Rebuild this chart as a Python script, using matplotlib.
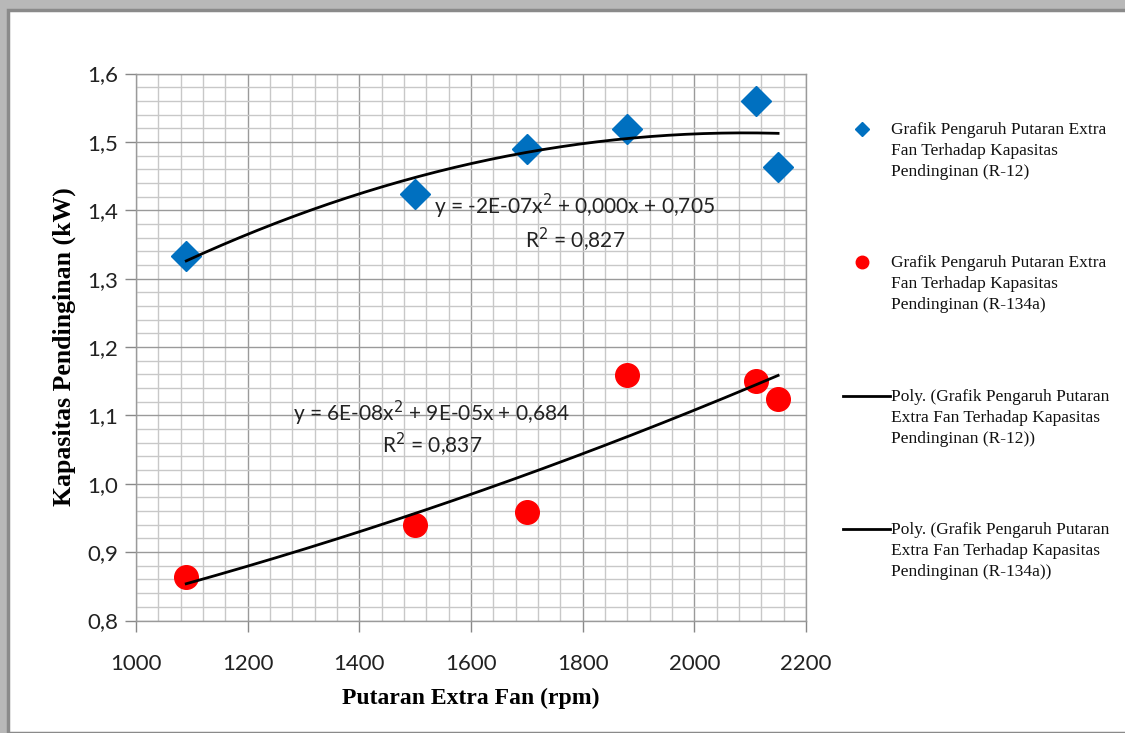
import numpy as np
import matplotlib
matplotlib.use("Agg")
import matplotlib.pyplot as plt
from matplotlib.lines import Line2D
from matplotlib.patches import Rectangle

# data
rpm = [1090, 1500, 1700, 1880, 2110, 2150]
kap_r12 = [1.333, 1.424, 1.490, 1.519, 1.560, 1.463]
kap_r134a = [0.864, 0.940, 0.959, 1.159, 1.150, 1.124]

x_ticks = [1000, 1200, 1400, 1600, 1800, 2000, 2200]
y_ticks = [0.8, 0.9, 1.0, 1.1, 1.2, 1.3, 1.4, 1.5, 1.6]

eq_r12 = "y = -2E-07x$^2$ + 0,000x + 0,705"
r2_r12 = "R$^2$ = 0,827"
eq_r134a = "y = 6E-08x$^2$ + 9E-05x + 0,684"
r2_r134a = "R$^2$ = 0,837"

legend_labels = [
    "Grafik Pengaruh Putaran Extra\nFan Terhadap Kapasitas\nPendinginan (R-12)",
    "Grafik Pengaruh Putaran Extra\nFan Terhadap Kapasitas\nPendinginan (R-134a)",
    "Poly. (Grafik Pengaruh Putaran\nExtra Fan Terhadap Kapasitas\nPendinginan (R-12))",
    "Poly. (Grafik Pengaruh Putaran\nExtra Fan Terhadap Kapasitas\nPendinginan (R-134a))",
]

blue = "#0070C0"
red = "#FF0000"
tick_font = "Lato"
serif = "Liberation Serif"

fig = plt.figure(figsize=(11.25, 7.33), dpi=100)
W, H = 1125, 733

# gray page frame around the chart box
fig.patch.set_facecolor("#b8b8b8")
fig.add_artist(Rectangle((8 / W, 0), 1, 1 - 10 / H, transform=fig.transFigure,
                         facecolor="white", edgecolor="#8a8a8a", linewidth=2.5, zorder=-10))

ax = fig.add_axes([136 / W, 112.5 / H, 670 / W, 547 / H])
ax.set_xlim(1000, 2200)
ax.set_ylim(0.8, 1.6)
ax.set_xticks(x_ticks)
ax.set_yticks(y_ticks)
ax.set_xticks(np.arange(1000, 2201, 40), minor=True)
ax.set_yticks(np.arange(0.8, 1.6001, 0.02), minor=True)
ax.set_xticklabels([str(v) for v in x_ticks], fontfamily=tick_font, fontsize=16, color="#222222")
ax.set_yticklabels([f"{v:.1f}".replace(".", ",") for v in y_ticks],
                   fontfamily=tick_font, fontsize=16, color="#222222")
ax.tick_params(which="major", direction="out", length=8, width=1, color="#888888", pad=5)
ax.tick_params(axis="x", which="major", pad=16)
ax.tick_params(which="minor", length=0)
ax.grid(which="minor", color="#c8c8c8", linewidth=1)
ax.grid(which="major", color="#9a9a9a", linewidth=1)
ax.set_axisbelow(True)
ax.patch.set_alpha(0)
for s in ax.spines.values():
    s.set_color("#9a9a9a")
    s.set_linewidth(1)

# data points
ax.plot(rpm, kap_r12, linestyle="none", marker="D", markersize=15, color=blue, zorder=3)
ax.plot(rpm, kap_r134a, linestyle="none", marker="o", markersize=17, color=red, zorder=3)

# polynomial trendlines
xs = np.linspace(min(rpm), max(rpm), 200)
for ys in (kap_r12, kap_r134a):
    c = np.polyfit(rpm, ys, 2)
    ax.plot(xs, np.polyval(c, xs), color="black", linewidth=2, zorder=4)

eq_kw = dict(fontfamily=tick_font, fontsize=15, color="#222222", ha="center", va="center", zorder=5)
ax.text(1786, 1.405, eq_r12, **eq_kw)
ax.text(1786, 1.357, r2_r12, **eq_kw)
ax.text(1530, 1.103, eq_r134a, **eq_kw)
ax.text(1530, 1.056, r2_r134a, **eq_kw)

ax.set_xlabel("Putaran Extra Fan (rpm)", fontfamily=serif, fontweight="bold", fontsize=17, labelpad=10)
ax.set_ylabel("Kapasitas Pendinginan (kW)", fontfamily=serif, fontweight="bold", fontsize=18.5, labelpad=8)

# legend drawn by hand to keep the marker on the first text line
legend_tops = [129, 262, 396, 529]
handles = [
    dict(marker="D", markersize=7, color=blue, linestyle="none"),
    dict(marker="o", markersize=9, color=red, linestyle="none"),
    None,
    None,
]
for top, lab, h in zip(legend_tops, legend_labels, handles):
    yf = 1 - top / H
    if h is None:
        fig.add_artist(Line2D([843 / W, 890 / W], [yf, yf], transform=fig.transFigure,
                              color="black", linewidth=2))
    else:
        fig.add_artist(Line2D([862 / W], [yf], transform=fig.transFigure, **h))
    fig.text(891 / W, yf + 7 / H, lab, fontfamily=serif, fontsize=12.5, va="top", ha="left",
             linespacing=1.4, color="#111111")

fig.savefig("out.png", dpi=100, facecolor=fig.get_facecolor())
